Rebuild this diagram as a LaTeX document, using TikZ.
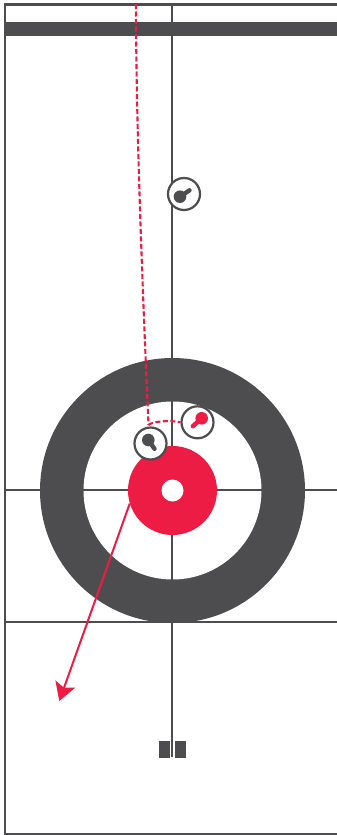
\documentclass[tikz,border=0pt]{standalone}
\usetikzlibrary{arrows.meta}
\definecolor{rink}{HTML}{4D4D4F}
\definecolor{shot}{HTML}{ED1C45}
\begin{document}
\begin{tikzpicture}[x=1pt,y=-1pt,>={Stealth[length=18pt,width=21pt,inset=4pt]},line/.style={rink,line width=2.2pt},ring/.style={circle,inner sep=0pt,minimum size=#1},stone/.style={circle,draw=rink,fill=white,line width=2.2pt,inner sep=0pt,minimum size=32pt},path/.style={shot,line width=2.1pt,dash pattern=on 5pt off 2.5pt},hit/.style={->,shot,line width=2pt},grip/.style={line width=4.4pt,line cap=round}]
\useasboundingbox (0,0) rectangle (337,835);
\fill[white] (0,0) rectangle (337,835);
\node[ring=265pt,fill=rink] (outer) at (172.5,490.5) {};\node[ring=178pt,fill=white] (inner) at (172.5,490.5) {};
\draw[line] (337,4.5)--(5,4.5)--(5,834.3)--(337,834.3);\draw[line] (172.3,4.5)--(172.3,757);\draw[line] (5,490)--(337,490);\draw[line] (5,622.3)--(337,622.3);
\fill[rink] (5,22) rectangle (337,36);
\node[ring=89pt,fill=shot] (house) at (172.5,490.5) {};\node[ring=22pt,fill=white] (button) at (172.5,490.5) {};
\fill[rink] (159,741) rectangle (170,758);\fill[rink] (175,741) rectangle (186,758);
\coordinate (start) at (136,4);\coordinate (turn) at (148.5,425);\coordinate (end) at (59.3,701);
\node[stone] (guard) at (184,194) {};\node[stone] (draw) at (197.5,422.3) {};
\draw[path] (start) .. controls (136,130) and (143,300) .. (turn);\draw[path] (turn) .. controls (151,422) and (168,419.5) .. (draw.west);
\draw[hit] (house.197)--(end);
\node[stone] (shooter) at (150.5,443.5) {};
\fill[rink] (180,196.7) circle (6.3pt);\draw[rink,grip] (180,196.7)--(189.5,190.3);
\fill[rink] (148.3,440) circle (6.3pt);\draw[rink,grip] (148.3,440)--(154.5,448.8);
\fill[shot] (201.7,418.3) circle (6.3pt);\draw[shot,grip] (201.7,418.3)--(192.8,426.2);
\end{tikzpicture}
\end{document}
